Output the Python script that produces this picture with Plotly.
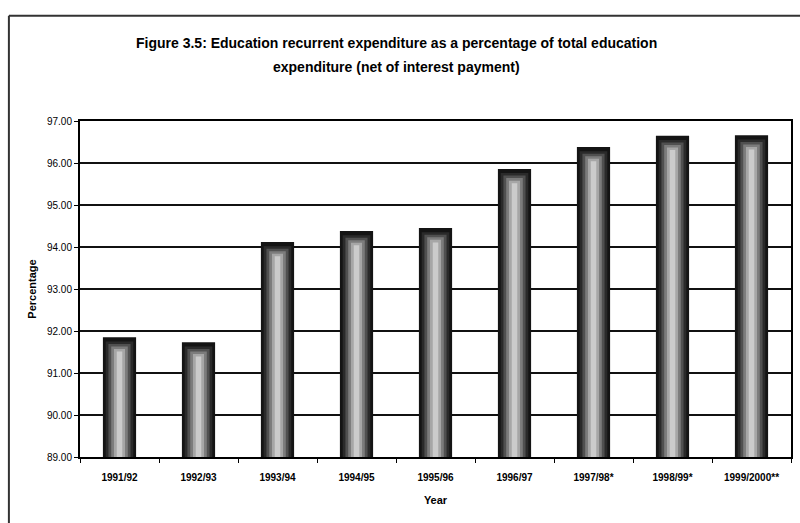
import plotly.graph_objects as go

# Financial years and recurrent share of education spending (%)
years = ["1991/92", "1992/93", "1993/94", "1994/95", "1995/96",
         "1996/97", "1997/98*", "1998/99*", "1999/2000**"]
recurrent_pct = [91.85, 91.73, 94.12, 94.38, 94.45, 95.86, 96.38, 96.65, 96.66]
y_ticks = [89, 90, 91, 92, 93, 94, 95, 96, 97]

title_lines = [
    "Figure 3.5: Education recurrent expenditure as a percentage of total education",
    "expenditure (net of interest payment)",
]

FONT = "Liberation Sans, Arial, sans-serif"

fig = go.Figure()

# Cylinder-style shading: stacked overlays from a dark shell to a light core
shades = [
    (0.42, "#141414", 0.00),
    (0.35, "#2a2a2a", 0.10),
    (0.28, "#505050", 0.16),
    (0.21, "#7c7c7c", 0.22),
    (0.14, "#a6a6a6", 0.28),
    (0.07, "#cbcbcb", 0.34),
]
for width, colour, drop in shades:
    fig.add_trace(go.Bar(
        x=years,
        y=[v - drop for v in recurrent_pct],
        width=width,
        marker=dict(color=colour, line=dict(width=0)),
        hoverinfo="skip",
        showlegend=False,
    ))

fig.update_layout(
    width=800, height=523,
    margin=dict(l=80, r=7, t=121, b=66),
    paper_bgcolor="white",
    plot_bgcolor="white",
    barmode="overlay",
    font=dict(family=FONT, color="black"),
    xaxis=dict(
        showline=True, linecolor="black", linewidth=2, mirror=True,
        ticks="outside", tickson="boundaries", ticklen=4, tickcolor="black",
        tickfont=dict(size=10, family=FONT),
        tickprefix="<b>", ticksuffix="</b>",
        ticklabelstandoff=10,
        title=dict(text="<b>Year</b>", font=dict(size=11, family=FONT), standoff=14),
        showgrid=False,
    ),
    yaxis=dict(
        range=[89, 97],
        tickvals=y_ticks,
        tickformat=".2f",
        tickprefix="<b>", ticksuffix="</b>",
        showline=True, linecolor="black", linewidth=2, mirror=True,
        ticks="outside", ticklen=4, tickcolor="black",
        tickfont=dict(size=10, family=FONT),
        showgrid=True, gridcolor="#111111", gridwidth=1.5,
        zeroline=False,
        title=dict(text="<b>Percentage</b>", font=dict(size=11, family=FONT), standoff=8),
    ),
)

# Two-line chart heading
for line_text, ypos in zip(title_lines, [1.232, 1.161]):
    fig.add_annotation(
        text=f"<b>{line_text}</b>",
        xref="paper", yref="paper", x=0.445, y=ypos,
        xanchor="center", yanchor="middle", showarrow=False,
        font=dict(size=14, family=FONT, color="black"),
    )

# Outer chart frame (top and left edges)
fig.add_shape(type="line", xref="paper", yref="paper",
              x0=-0.1, x1=1.02, y0=1.313, y1=1.313,
              line=dict(color="#333333", width=2))
fig.add_shape(type="line", xref="paper", yref="paper",
              x0=-0.1, x1=-0.1, y0=1.313, y1=-0.2,
              line=dict(color="#333333", width=2))

fig.write_html("out.html")
